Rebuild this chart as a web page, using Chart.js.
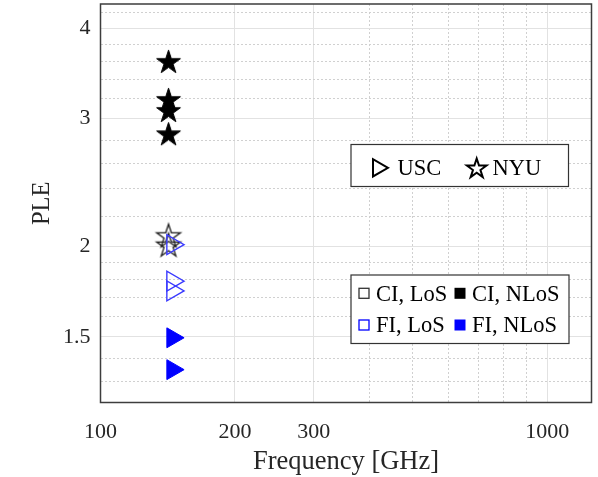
<!DOCTYPE html>
<html><head><meta charset="utf-8">
<script src="https://cdn.jsdelivr.net/npm/chart.js@4.4.0/dist/chart.umd.min.js"></script>
<style>html,body{margin:0;padding:0;background:#fff;}canvas{display:block;}</style>
</head><body>
<canvas id="c" width="598" height="477"></canvas>
<script>
// ---- data ----
const xMajorTicks = [100, 200, 300, 1000];
const xMinorTicks = [400, 500, 600, 700, 800, 900];
const yMajorTicks = [1.5, 2, 3, 4];
const yMinorTicks = [1.3, 1.4, 1.6, 1.7, 1.8, 1.9, 2.2, 2.4, 2.6, 2.8, 3.2, 3.4, 3.6, 3.8, 4.2];

const nyuFreqGHz = [142, 142, 142, 142];
const nyuCI_NLoS = [3.6, 3.19, 3.08, 2.86];
const nyuLosFreqGHz = [142, 142];
const nyuCI_LoS = [2.07, 2.01];
const uscLosFreqGHz = [145, 145, 145];
const uscFI_LoS = [2.01, 1.79, 1.735];
const uscNlosFreqGHz = [145, 145];
const uscFI_NLoS = [1.495, 1.351];

const shapeLegend = ['USC', 'NYU'];
const colorLegend = ['CI, LoS', 'CI, NLoS', 'FI, LoS', 'FI, NLoS'];

// ---- helpers ----
const pts = (xs, ys) => ys.map((y, i) => ({x: xs[i], y}));
function starPath(g, cx, cy, R) {
  g.beginPath();
  for (let k = 0; k < 10; k++) {
    const a = -Math.PI / 2 + k * Math.PI / 5;
    const r = (k % 2) ? R * 0.382 : R;
    const px = cx + r * Math.cos(a), py = cy + r * Math.sin(a);
    if (k === 0) g.moveTo(px, py); else g.lineTo(px, py);
  }
  g.closePath();
}
function makeStar(R, fill, stroke, lw) {
  const size = Math.ceil(2 * R + 2 * lw + 4);
  const c = document.createElement('canvas');
  c.width = size; c.height = size;
  const g = c.getContext('2d');
  starPath(g, size / 2, size / 2 + R * 0.095, R);
  if (fill) { g.fillStyle = fill; g.fill(); }
  g.lineJoin = 'miter';
  g.strokeStyle = stroke; g.lineWidth = lw; g.stroke();
  return c;
}
const starFilled = makeStar(12.5, '#000', '#000', 1);
const starHollow = makeStar(12.5, null, '#1e1e1e', 1.3);

const FONT = "'Liberation Serif', 'Times New Roman', serif";
const TXT = '#262626';

const frameAndLegend = {
  id: 'frameAndLegend',
  afterDraw(chart) {
    const g = chart.ctx;
    const a = chart.chartArea;
    g.save();
    g.strokeStyle = '#3d3d3d'; g.lineWidth = 1.5;
    g.strokeRect(a.left, a.top, a.right - a.left, a.bottom - a.top);

    // legend 1 (marker shapes)
    g.fillStyle = '#fff'; g.strokeStyle = '#333'; g.lineWidth = 1.2;
    g.fillRect(351, 144.5, 217.5, 42); g.strokeRect(351, 144.5, 217.5, 42);
    const tx = 378, ty = 167.8, tr = 10;
    g.beginPath();
    g.moveTo(tx + tr, ty);
    g.lineTo(tx - tr / 2, ty - tr * 0.866);
    g.lineTo(tx - tr / 2, ty + tr * 0.866);
    g.closePath();
    g.strokeStyle = '#000'; g.lineWidth = 2; g.stroke();
    starPath(g, 476.7, 168.8, 10.3);
    g.stroke();
    g.fillStyle = '#000';
    g.font = '22.5px ' + FONT;
    g.textBaseline = 'alphabetic'; g.textAlign = 'left';
    g.fillText(shapeLegend[0], 397.5, 175.2);
    g.fillText(shapeLegend[1], 492.5, 175.2);

    // legend 2 (colour / fill)
    g.fillStyle = '#fff'; g.strokeStyle = '#333'; g.lineWidth = 1.2;
    g.fillRect(351, 275, 218, 68.5); g.strokeRect(351, 275, 218, 68.5);
    const rows = [293.3, 325];
    const cols = [358.5, 454.5];
    const cols2 = [376, 472];
    const colors = ['#000', '#0000ff'];
    for (let r = 0; r < 2; r++) {
      for (let c = 0; c < 2; c++) {
        const sx = cols[c], sy = rows[r] - 5.5;
        if (c === 0) {
          g.strokeStyle = r === 0 ? '#333' : '#0000ff';
          g.lineWidth = 1.3;
          g.strokeRect(sx + 0.5, sy + 0.5, 10, 10);
        } else {
          g.fillStyle = colors[r];
          g.fillRect(sx, sy, 11, 11);
        }
        g.fillStyle = '#000';
        g.fillText(colorLegend[r * 2 + c], cols2[c], rows[r] + 7.3);
      }
    }
    g.restore();
  }
};

const isMajorX = v => xMajorTicks.includes(v);
const isMajorY = v => yMajorTicks.includes(v);

new Chart(document.getElementById('c'), {
  type: 'scatter',
  data: {
    datasets: [
      { label: 'USC FI NLoS', data: pts(uscNlosFreqGHz, uscFI_NLoS),
        pointStyle: 'triangle', rotation: 90, pointRadius: 11.5,
        backgroundColor: '#0000ff', borderColor: '#0000ff', borderWidth: 1 },
      { label: 'USC FI LoS', data: pts(uscLosFreqGHz, uscFI_LoS),
        pointStyle: 'triangle', rotation: 90, pointRadius: 11.5,
        backgroundColor: 'rgba(0,0,0,0)', borderColor: '#3a3aff', borderWidth: 1.4 },
      { label: 'NYU CI LoS', data: pts(nyuLosFreqGHz, nyuCI_LoS),
        pointStyle: starHollow, pointRadius: 12 },
      { label: 'NYU CI NLoS', data: pts(nyuFreqGHz, nyuCI_NLoS),
        pointStyle: starFilled, pointRadius: 12 }
    ]
  },
  options: {
    responsive: false,
    animation: false,
    events: [],
    layout: { autoPadding: false, padding: { top: 4, right: 6.5, left: 0, bottom: 0 } },
    plugins: { legend: { display: false }, tooltip: { enabled: false } },
    scales: {
      x: {
        type: 'logarithmic', min: 100, max: 1256, bounds: 'data',
        afterBuildTicks: s => {
          s.ticks = xMajorTicks.concat(xMinorTicks).sort((a, b) => a - b).map(v => ({value: v}));
        },
        afterFit: s => { s.height = 74.5; s.paddingLeft = 0; s.paddingRight = 0; },
        ticks: {
          autoSkip: false, maxRotation: 0, padding: 17, color: TXT,
          font: { family: FONT, size: 22 },
          callback: v => isMajorX(v) ? String(v) : ''
        },
        grid: {
          drawTicks: false,
          color: c => (c.tick && isMajorX(c.tick.value)) ? '#e2e2e2' : '#d0d0d0',
          lineWidth: 1
        },
        border: {
          display: false,
          dash: c => (c.tick && !isMajorX(c.tick.value)) ? [2, 2] : []
        },
        title: { display: true, text: 'Frequency [GHz]', color: TXT,
          font: { family: FONT, size: 26.5 }, padding: { top: 0, bottom: -1 } }
      },
      y: {
        type: 'logarithmic', min: 1.217, max: 4.32, bounds: 'data',
        afterBuildTicks: s => {
          s.ticks = yMajorTicks.concat(yMinorTicks).sort((a, b) => a - b).map(v => ({value: v}));
        },
        afterFit: s => { s.width = 100.5; s.paddingTop = 0; s.paddingBottom = 0; },
        ticks: {
          autoSkip: false, padding: 10, color: TXT,
          font: { family: FONT, size: 22 },
          callback: v => isMajorY(v) ? String(v) : ''
        },
        grid: {
          drawTicks: false,
          color: c => (c.tick && isMajorY(c.tick.value)) ? '#e2e2e2' : '#d0d0d0',
          lineWidth: 1
        },
        border: {
          display: false,
          dash: c => (c.tick && !isMajorY(c.tick.value)) ? [2, 2] : []
        },
        title: { display: true, text: 'PLE', color: TXT,
          font: { family: FONT, size: 24.5 }, padding: { top: 28, bottom: 0 } }
      }
    }
  },
  plugins: [frameAndLegend]
});
</script>
</body></html>
